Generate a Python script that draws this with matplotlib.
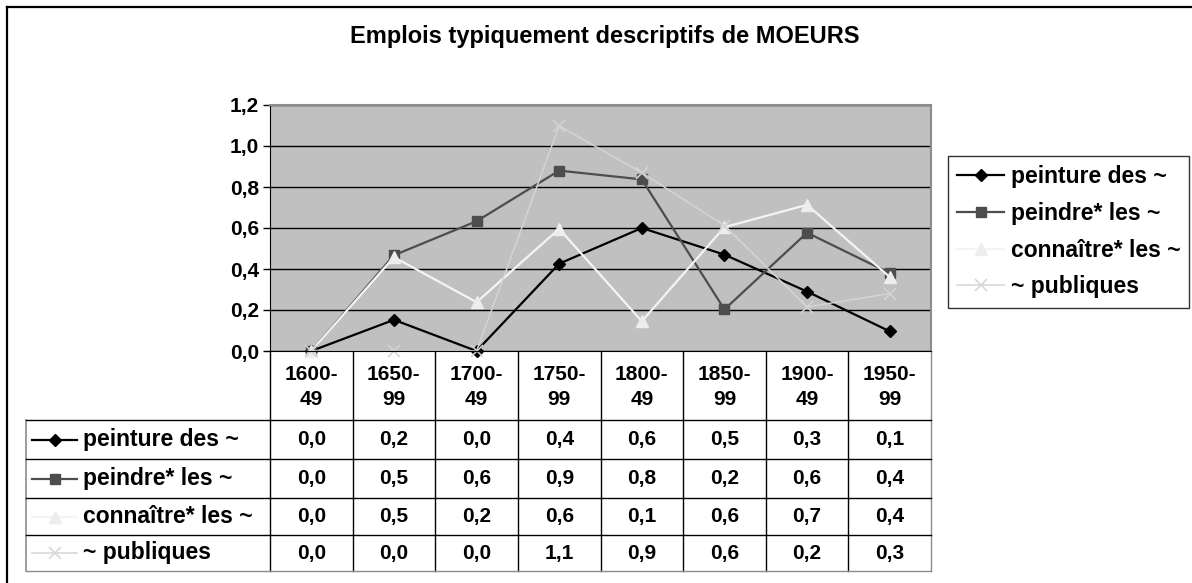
import matplotlib
matplotlib.use("Agg")
import matplotlib.pyplot as plt
import numpy as np

plt.rcParams["font.family"] = ["Liberation Sans", "DejaVu Sans"]
plt.rcParams["font.weight"] = "bold"

titre = "Emplois typiquement descriptifs de MOEURS"
periodes = ["1600-\n49", "1650-\n99", "1700-\n49", "1750-\n99",
            "1800-\n49", "1850-\n99", "1900-\n49", "1950-\n99"]

noms = ["peinture des ~", "peindre* les ~", "connaître* les ~", "~ publiques"]
peinture = [0.0, 0.152, 0.0, 0.426, 0.60, 0.47, 0.29, 0.096]
peindre = [0.0, 0.467, 0.633, 0.88, 0.837, 0.203, 0.577, 0.38]
connaitre = [0.0, 0.458, 0.238, 0.596, 0.145, 0.604, 0.713, 0.361]
publiques = [0.0, 0.0, 0.0, 1.098, 0.87, 0.612, 0.215, 0.28]
series = [peinture, peindre, connaitre, publiques]

# style for hver serie
styles = [
    dict(color="#000000", marker="D", ms=6.5, lw=1.6, mfc="#000000", mec="#000000"),
    dict(color="#4d4d4d", marker="s", ms=7, lw=1.6, mfc="#4d4d4d", mec="#4d4d4d"),
    dict(color="#f4f4f4", marker="^", ms=8.5, lw=1.6, mfc="#ededed", mec="#ededed"),
    dict(color="#d4d4d4", marker="x", ms=8, lw=1.1, mew=1.1),
]

W, H = 1192, 583
fig = plt.figure(figsize=(W / 100, H / 100), dpi=100)

# bakgrunn i pikselkoordinater (ramme + tabell)
bg = fig.add_axes([0, 0, 1, 1])
bg.set_xlim(0, W)
bg.set_ylim(H, 0)
bg.axis("off")

# plottomraade
x0, x1, ytop, ybot = 270, 931, 105, 351
ax = fig.add_axes([x0 / W, 1 - ybot / H, (x1 - x0) / W, (ybot - ytop) / H])
ax.set_zorder(2)
ax.set_facecolor("#c0c0c0")
ax.set_xlim(-0.5, len(periodes) - 0.5)
ax.set_ylim(0, 1.2)
yt = np.arange(0, 1.21, 0.2)
ax.set_yticks(yt)
ax.set_yticklabels([f"{v:.1f}".replace(".", ",") for v in yt], fontsize=15, fontweight="bold")
ax.set_xticks([])
ax.tick_params(axis="y", length=5, width=1, pad=3, direction="out")
ax.grid(axis="y", color="black", lw=1)
ax.set_axisbelow(True)
for side in ["top", "right"]:
    ax.spines[side].set_color("#8c8c8c")
    ax.spines[side].set_linewidth(1.5)
ax.spines["left"].set_color("black")
ax.spines["bottom"].set_color("black")

xs = np.arange(len(periodes))
for navn, verdier, st in zip(noms, series, styles):
    ax.plot(xs, verdier, label=navn, clip_on=False, **st)

leg = ax.legend(loc="upper left", bbox_to_anchor=(948 / W, 1 - 156 / H),
                bbox_transform=fig.transFigure, fontsize=16.5, frameon=True,
                fancybox=False, edgecolor="black", handlelength=2.05,
                handletextpad=0.28, labelspacing=0.6, borderpad=0.4, borderaxespad=0)
leg.get_frame().set_linewidth(1)

# tittel
fig.text(605 / W, 1 - 37 / H, titre, ha="center", va="center", fontsize=17, fontweight="bold")

# ytre ramme (kuttet til hoyre og nederst)
bg.plot([7, W], [7, 7], color="black", lw=1.6)
bg.plot([7, 7], [7, H], color="black", lw=1.6)

# datatabell
colw = (x1 - x0) / len(periodes)
head_bot = 420
rows = [head_bot, 459, 498, 535, 571]
tab_left = 26

for i in range(len(periodes) + 1):
    xv = x0 + i * colw
    c = "#8c8c8c" if i == len(periodes) else "black"
    bg.plot([xv, xv], [ybot, rows[-1]], color=c, lw=1)
bg.plot([tab_left, tab_left], [head_bot, rows[-1]], color="#8c8c8c", lw=1.2)
for j, yv in enumerate(rows):
    c = "#8c8c8c" if j == len(rows) - 1 else "black"
    bg.plot([tab_left, x1], [yv, yv], color=c, lw=1)

for i, p in enumerate(periodes):
    bg.text(x0 + (i + 0.5) * colw, 387, p, ha="center", va="center",
            fontsize=15, fontweight="bold", linespacing=1.45)

for j, (navn, verdier, st) in enumerate(zip(noms, series, styles)):
    yc = (rows[j] + rows[j + 1]) / 2
    bg.plot([32, 77], [yc, yc], color=st["color"], lw=st["lw"])
    bg.plot([54.5], [yc], linestyle="none", **{k: v for k, v in st.items() if k not in ("color", "lw")},
            color=st["color"])
    bg.text(83, yc, navn, ha="left", va="center", fontsize=16.5, fontweight="bold")
    for i, v in enumerate(verdier):
        bg.text(x0 + (i + 0.5) * colw, yc, f"{v:.1f}".replace(".", ","), ha="center",
                va="center", fontsize=15, fontweight="bold")

fig.savefig("out.png", dpi=100)
